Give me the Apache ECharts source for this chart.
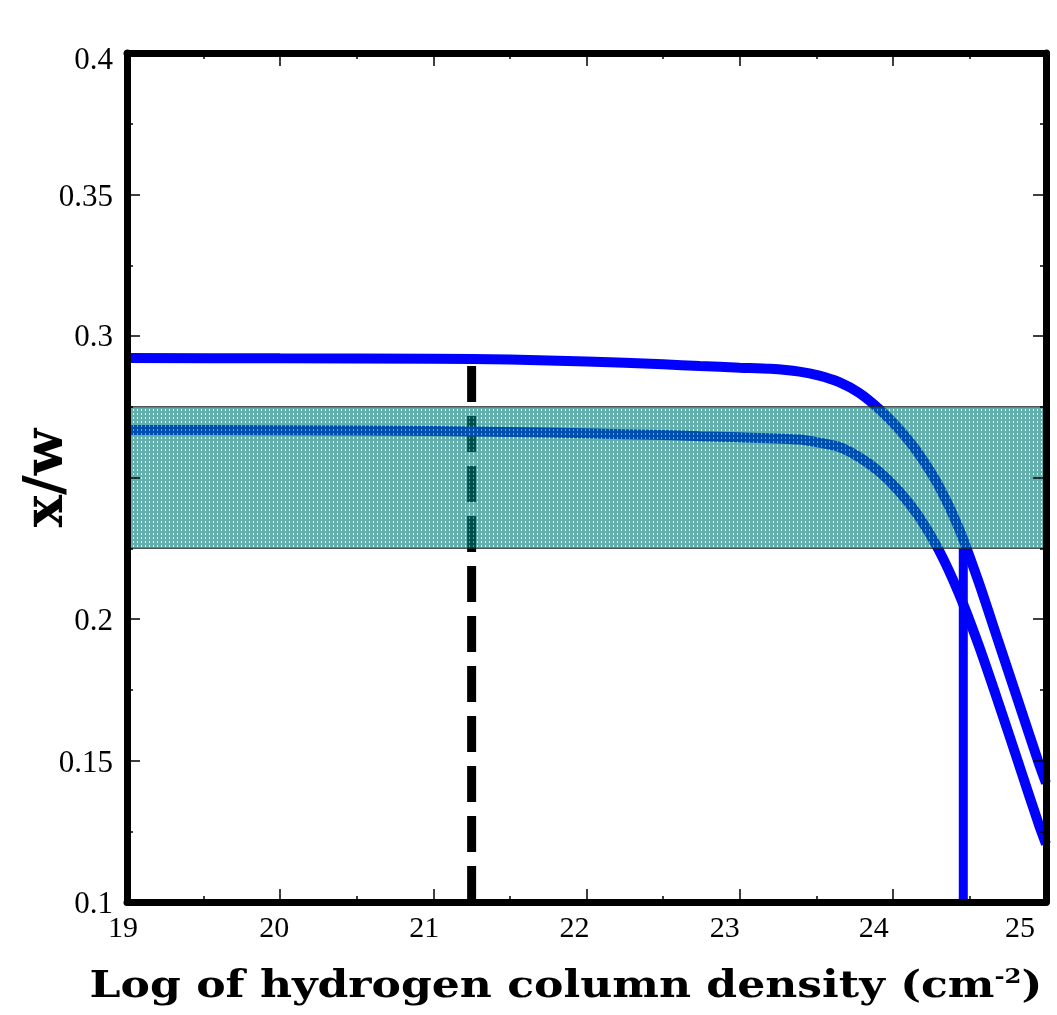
<!DOCTYPE html>
<html>
<head>
<meta charset="utf-8">
<script src="https://cdn.jsdelivr.net/npm/echarts@6/dist/echarts.min.js"></script>
<style>
  html, body { margin: 0; padding: 0; background: #fff; overflow: hidden; }
  #chart { width: 1057px; height: 1015px; }
</style>
</head>
<body>
<div id="chart"></div>
<script>
// ---- data ----
const xTicks = [19, 20, 21, 22, 23, 24, 25];
const xTickLabels = ['19', '20', '21', '22', '23', '24', '25'];
const yTicks = [0.1, 0.15, 0.2, 0.25, 0.3, 0.35, 0.4];
const yTickLabels = ['0.1', '0.15', '0.2', '', '0.3', '0.35', '0.4'];

const upperX = [19.0, 20.0, 21.0, 21.5, 22.0, 22.5, 22.74, 23.0, 23.2, 23.39, 23.52, 23.65, 23.78, 23.91, 24.04, 24.17, 24.30, 24.43, 24.56, 24.69, 24.82, 24.95, 25.0];
const upperY = [0.2922, 0.2921, 0.2920, 0.2917, 0.2910, 0.2900, 0.2894, 0.2888, 0.2884, 0.2874, 0.2860, 0.2837, 0.2799, 0.2742, 0.2671, 0.2583, 0.2470, 0.2322, 0.2131, 0.1919, 0.1707, 0.1495, 0.1420];

const lowerX = [19.0, 20.0, 21.0, 21.5, 22.0, 22.5, 22.74, 23.0, 23.39, 23.52, 23.65, 23.78, 23.91, 24.04, 24.17, 24.30, 24.43, 24.56, 24.69, 24.82, 24.95, 25.0];
const lowerY = [0.2668, 0.2667, 0.2664, 0.2661, 0.2656, 0.2650, 0.2646, 0.2642, 0.2634, 0.2623, 0.2608, 0.2572, 0.2521, 0.2452, 0.2362, 0.2244, 0.2092, 0.1908, 0.1703, 0.1491, 0.1279, 0.1205];

const bandLow = 0.225, bandHigh = 0.275;
const dashedX = 21.25, dashedTop = 0.2918;
const markerX = 24.46, markerTop = 0.2250;
const xMin = 19, xMax = 25, yMin = 0.1, yMax = 0.4;
const xTitleParts = ['Log of hydrogen column density (cm', '-2', ')'];
const yTitle = 'x/w';

// ---- build ----
const zip = (xs, ys) => xs.map((x, i) => [x, ys[i]]);

function bandPattern() {
  const c = document.createElement('canvas');
  c.width = 4; c.height = 4;
  const g = c.getContext('2d');
  g.fillStyle = 'rgba(0,128,124,0.62)';
  g.fillRect(0, 0, 4, 4);
  g.clearRect(1, 1, 1, 2);
  g.fillStyle = 'rgba(255,255,255,0.55)';
  g.fillRect(1, 1, 1, 2);
  return c;
}

const tickStyle = { color: '#000', width: 1.5 };
const frameLine = { show: true, onZero: false, lineStyle: { color: '#000', width: 7, cap: 'round' } };
const serif = 'Liberation Serif';

// per-label nudges (label placement of the original plot)
const xLabelShift = [4, 6, 9, 12, 15, 19, 26];
const yLabelShift = [3, 3, 3, 3, 2, 3, 8];
const xRich = {}, yRich = {};
xLabelShift.forEach((s, i) => {
  xRich['t' + i] = { fontFamily: serif, fontSize: 30, color: '#000', padding: [0, 2 * s, 0, 0] };
});
yLabelShift.forEach((s, i) => {
  yRich['t' + i] = { fontFamily: serif, fontSize: 31, color: '#000', padding: [2 * s, 0, 0, 0] };
});
function xLabel(v) {
  const i = xTicks.findIndex(t => Math.abs(t - v) < 1e-6);
  return i >= 0 ? '{t' + i + '|' + xTickLabels[i] + '}' : '';
}
function yLabel(v) {
  const i = yTicks.findIndex(t => Math.abs(t - v) < 1e-6);
  return (i >= 0 && yTickLabels[i]) ? '{t' + i + '|' + yTickLabels[i] + '}' : '';
}

const xBase = {
  type: 'value', min: xMin, max: xMax, interval: 1,
  axisLine: frameLine,
  axisTick: { show: true, inside: true, length: 13, lineStyle: tickStyle },
  minorTick: { show: true, splitNumber: 2, length: 6, lineStyle: tickStyle },
  splitLine: { show: false },
  z: 10
};
const yBase = {
  type: 'value', min: yMin, max: yMax, interval: 0.05,
  axisLine: frameLine,
  axisTick: { show: true, inside: true, length: 13, lineStyle: tickStyle },
  minorTick: { show: true, splitNumber: 2, length: 6, lineStyle: tickStyle },
  splitLine: { show: false },
  z: 10
};

const option = {
  animation: false,
  backgroundColor: '#fff',
  grid: { left: 127, right: 11, top: 53, bottom: 113, containLabel: false, outerBoundsMode: 'none' },
  graphic: [{
    type: 'text',
    x: 566, y: 987,
    scaleX: 1.16,
    style: {
      text: '{a|' + xTitleParts[0] + '}{s|' + xTitleParts[1] + '}{a|' + xTitleParts[2] + '}',
      align: 'center', verticalAlign: 'middle',
      rich: {
        a: { fontFamily: 'DejaVu Serif', fontWeight: 'bold', fontSize: 38, fill: '#000', lineHeight: 46 },
        s: { fontFamily: 'DejaVu Serif', fontWeight: 'bold', fontSize: 21, fill: '#000', lineHeight: 46, padding: [0, 0, 18, 0] }
      }
    }
  }, {
    type: 'text',
    x: 48, y: 478,
    rotation: Math.PI / 2,
    style: {
      text: yTitle,
      align: 'center', verticalAlign: 'middle',
      fontFamily: 'DejaVu Serif', fontWeight: 'bold', fontSize: 54, fill: '#000'
    }
  }],
  xAxis: [
    Object.assign({}, xBase, {
      position: 'bottom',
      axisLabel: { show: true, margin: 12, fontFamily: serif, fontSize: 30, color: '#000', formatter: xLabel, rich: xRich }
    }),
    Object.assign({}, xBase, { position: 'top', axisLabel: { show: false } })
  ],
  yAxis: [
    Object.assign({}, yBase, {
      position: 'left',
      axisLabel: { show: true, margin: 14, fontFamily: serif, fontSize: 31, color: '#000', formatter: yLabel, rich: yRich }
    }),
    Object.assign({}, yBase, { position: 'right', axisLabel: { show: false } })
  ],
  series: [
    {
      name: 'dashed', type: 'line', z: 2, symbol: 'none',
      data: [[dashedX, yMin], [dashedX, dashedTop]],
      lineStyle: { color: '#000', width: 9, type: [36, 14] }
    },
    {
      name: 'upper', type: 'line', z: 3, symbol: 'none', smooth: 0.25,
      data: zip(upperX, upperY),
      lineStyle: { color: '#0000ff', width: 10 }
    },
    {
      name: 'lower', type: 'line', z: 3, symbol: 'none', smooth: 0.25,
      data: zip(lowerX, lowerY),
      lineStyle: { color: '#0000ff', width: 10 }
    },
    {
      name: 'marker', type: 'line', z: 3, symbol: 'none',
      data: [[markerX, yMin], [markerX, markerTop]],
      lineStyle: { color: '#0000ff', width: 9 }
    },
    {
      name: 'band', type: 'line', z: 5, symbol: 'none', data: [],
      markArea: {
        silent: true, z: 6,
        itemStyle: { color: { image: bandPattern(), repeat: 'repeat' }, borderColor: '#222', borderWidth: 1.2 },
        data: [[{ coord: [xMin, bandHigh] }, { coord: [xMax, bandLow] }]]
      }
    }
  ]
};

const chart = echarts.init(document.getElementById('chart'), null, { renderer: 'canvas' });
chart.setOption(option);
</script>
</body>
</html>
